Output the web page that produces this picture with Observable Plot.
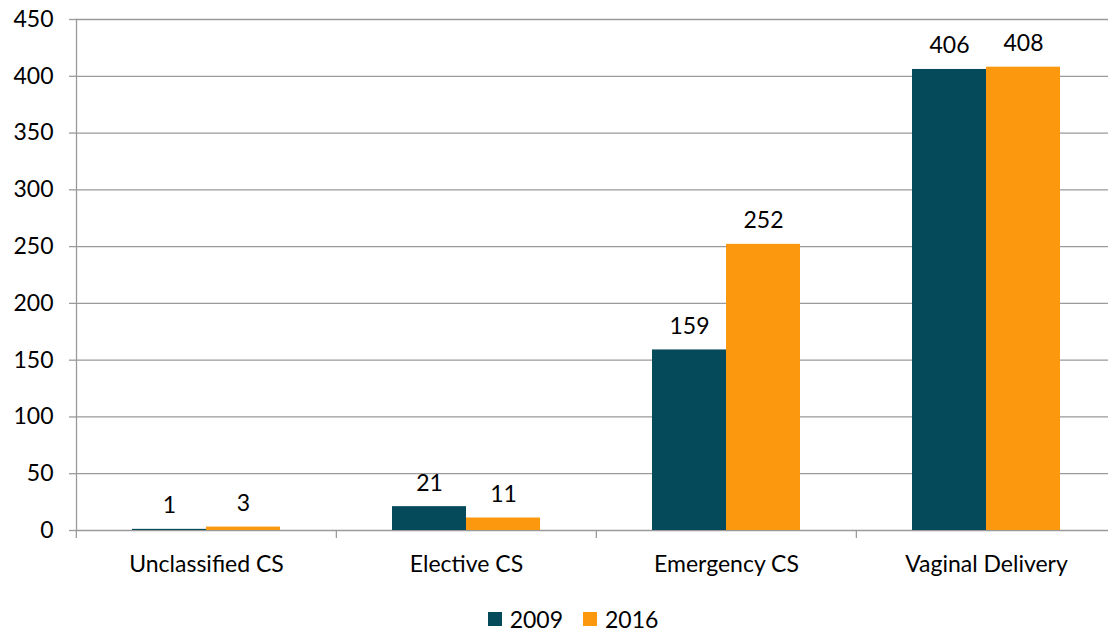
<!DOCTYPE html>
<html>
<head>
<meta charset="utf-8">
<script src="https://cdn.jsdelivr.net/npm/d3@7"></script>
<script src="https://cdn.jsdelivr.net/npm/@observablehq/plot@0.6"></script>
<style>
  html, body { margin: 0; padding: 0; background: #fff; }
  body { width: 1108px; height: 635px; overflow: hidden; font-family: Lato, "Open Sans", sans-serif; }
  #legend { display: flex; justify-content: center; align-items: center; gap: 20px; margin-top: 26px; padding-left: 38px; font-size: 23px; line-height: 26px; color: #000; }
  .item { display: flex; align-items: center; gap: 8px; }
  .sw { width: 14px; height: 14px; display: inline-block; }
</style>
</head>
<body>
<div id="chart"></div>
<div id="legend"></div>
<script>
const categories = ["Unclassified CS", "Elective CS", "Emergency CS", "Vaginal Delivery"];
const years = ["2009", "2016"];
const values2009 = [1, 21, 159, 406];
const values2016 = [3, 11, 252, 408];
const yTicks = [0, 50, 100, 150, 200, 250, 300, 350, 400, 450];
const colors = ["#054a5b", "#fb980d"];

const data = categories.flatMap((c, i) => [
  {category: c, year: years[0], value: values2009[i]},
  {category: c, year: years[1], value: values2016[i]}
]);

const gray = "#9a9a9a";
const fs = 23;

const plot = Plot.plot({
  width: 1108,
  height: 580,
  marginLeft: 75,
  marginRight: 0,
  marginTop: 19,
  marginBottom: 50,
  style: {fontFamily: "Lato, 'Open Sans', sans-serif", fontSize: fs + "px", color: "#000", background: "#fff"},
  fx: {domain: categories, padding: 0, range: [75, 1116], label: null},
  x: {domain: years, paddingInner: 0, paddingOuter: 0.746, axis: null},
  y: {domain: [0, 450], ticks: yTicks, label: null},
  color: {domain: years, range: colors},
  marks: [
    Plot.gridY(yTicks, {stroke: gray, strokeOpacity: 1, strokeWidth: 1.3}),
    Plot.axisY(yTicks, {tickSize: 7, tickPadding: 16, stroke: gray, strokeWidth: 1.3, fontSize: fs, label: null}),
    Plot.frame({anchor: "left", facetAnchor: "left", stroke: gray, strokeWidth: 1.3}),
    Plot.barY(data, {fx: "category", x: "year", y: "value", fill: "year"}),
    Plot.text(data, {fx: "category", x: "year", y: "value", text: d => String(d.value), lineAnchor: "bottom", dy: -16, fontSize: fs, fill: "#000"}),
    Plot.axisFx({anchor: "bottom", tickSize: 0, tickPadding: 25, fontSize: fs, label: null}),
    Plot.axisFx({anchor: "bottom", tickSize: 8, tickFormat: () => "", dx: -130.125, stroke: gray, strokeWidth: 1.3, label: null})
  ]
});
document.getElementById("chart").appendChild(plot);

const legend = d3.select("#legend");
years.forEach((y, i) => {
  const item = legend.append("div").attr("class", "item");
  item.append("span").attr("class", "sw").style("background", colors[i]);
  item.append("span").text(y);
});
</script>
</body>
</html>
